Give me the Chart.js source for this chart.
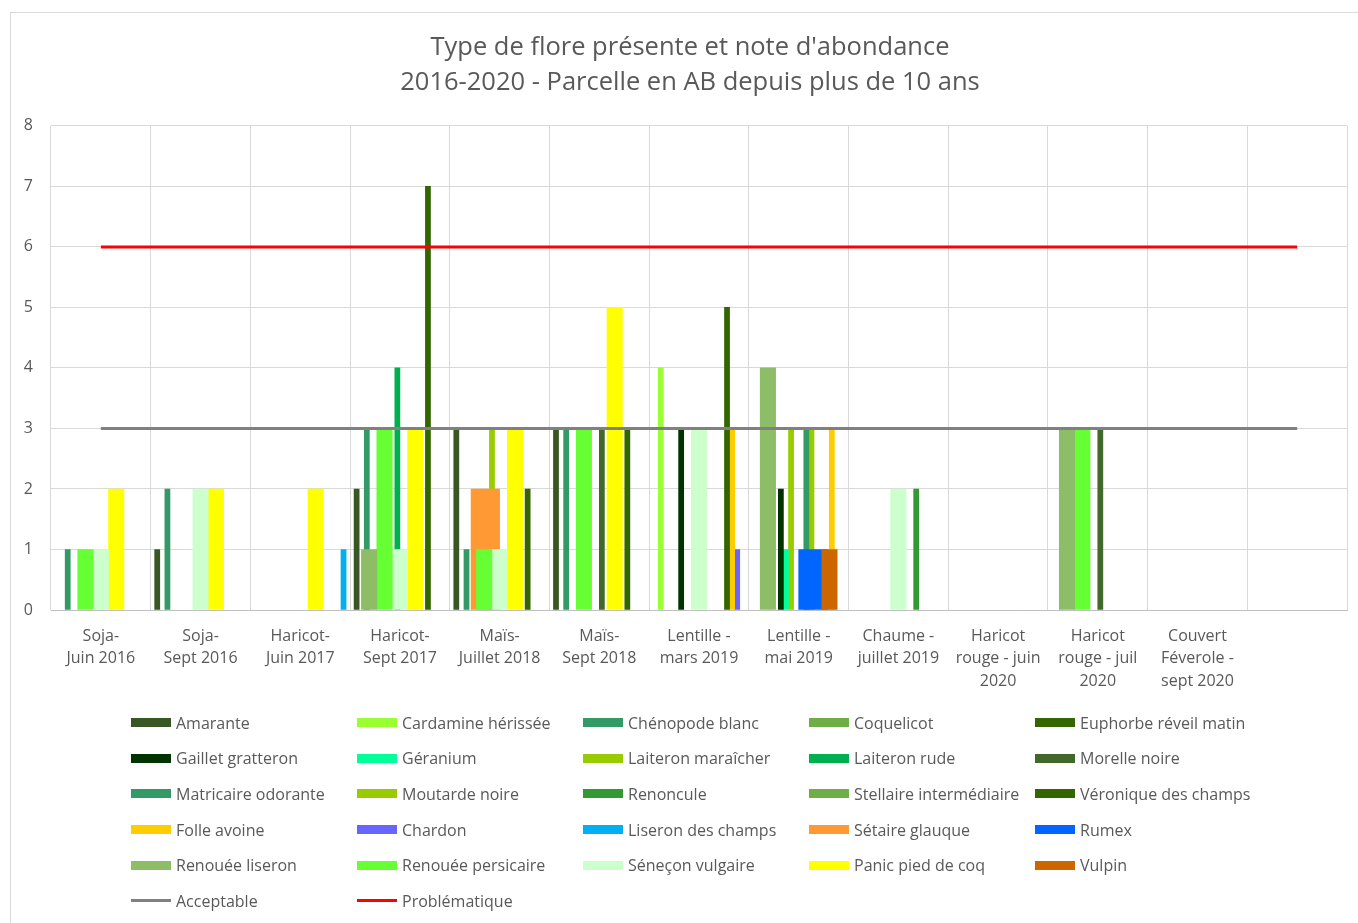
<!DOCTYPE html>
<html lang="fr">
<head>
<meta charset="utf-8">
<title>Type de flore présente et note d'abondance</title>
<script src="https://cdn.jsdelivr.net/npm/chart.js@4.4.1/dist/chart.umd.min.js"></script>
<style>
  html, body { margin: 0; padding: 0; background: #fff; overflow: hidden; width: 1358px; height: 923px; }
  #frame { position: absolute; left: 10px; top: 12px; width: 1400px; height: 1000px; border: 1px solid #d9d9d9; box-sizing: border-box; }
  #wrap { position: absolute; left: 0; top: 0; width: 1358px; height: 923px; }
  #legend { position: absolute; left: 131px; top: 705px; display: grid; grid-template-columns: repeat(5, 226px); grid-auto-rows: 35.6px;
            font-family: 'Open Sans', sans-serif; font-size: 16px; color: #595959; }
  .item { display: flex; align-items: center; white-space: nowrap; }
  .mark { display: inline-block; width: 40px; margin-right: 5px; }
</style>
</head>
<body>
<div id="frame"></div>
<div id="wrap"><canvas id="c" width="1358" height="923"></canvas></div>
<div id="legend"></div>
<script>
// Relevés (campagnes), la dernière colonne reste vide
const categories = [
  ["Soja-", "Juin 2016"], ["Soja-", "Sept 2016"], ["Haricot-", "Juin 2017"], ["Haricot-", "Sept 2017"],
  ["Maïs-", "Juillet 2018"], ["Maïs-", "Sept 2018"], ["Lentille -", "mars 2019"], ["Lentille -", "mai 2019"],
  ["Chaume -", "juillet 2019"], ["Haricot", "rouge - juin", "2020"], ["Haricot", "rouge - juil", "2020"],
  ["Couvert", "Féverole -", "sept 2020"], ""
];
const yTicks = [0, 1, 2, 3, 4, 5, 6, 7, 8];

// Notes d'abondance par espèce
const amarante          = [null, 1, null, 2, 3, 3, null, null, null, null, null, null, null];
const cardamine         = [null, null, null, null, null, null, 4, null, null, null, null, null, null];
const chenopode         = [1, 2, null, 3, 1, 3, null, null, null, null, null, null, null];
const coquelicot        = [null, null, null, null, null, null, null, null, null, null, null, null, null];
const euphorbe          = [null, null, null, null, null, null, null, null, null, null, null, null, null];
const gaillet           = [null, null, null, null, null, null, 3, 2, null, null, null, null, null];
const geranium          = [null, null, null, null, null, null, null, 1, null, null, null, null, null];
const laiteronMaraicher = [null, null, null, null, 3, null, null, 3, null, null, null, null, null];
const laiteronRude      = [null, null, null, 4, null, null, null, null, null, null, null, null, null];
const morelle           = [null, null, null, null, null, 3, null, null, null, null, 3, null, null];
const matricaire        = [null, null, null, null, null, null, null, 3, null, null, null, null, null];
const moutarde          = [null, null, null, null, null, null, null, 3, null, null, null, null, null];
const renoncule         = [null, null, null, null, null, null, null, null, 2, null, null, null, null];
const stellaire         = [null, null, null, null, null, null, null, null, null, null, null, null, null];
const veronique         = [null, null, null, 7, 2, 3, 5, null, null, null, null, null, null];
const folleAvoine       = [null, null, null, null, null, null, 3, 3, null, null, null, null, null];
const chardon           = [null, null, null, null, null, null, 1, null, null, null, null, null, null];
const liseronChamps     = [null, null, 1, null, null, null, null, null, null, null, null, null, null];
const setaire           = [null, null, null, null, 2, null, null, null, null, null, null, null, null];
const rumex             = [null, null, null, null, null, null, null, 1, null, null, null, null, null];
const renoueeLiseron    = [null, null, null, 1, null, null, null, 4, null, null, 3, null, null];
const renoueePersicaire = [1, null, null, 3, 1, 3, null, null, null, null, 3, null, null];
const senecon           = [1, 2, null, 1, 1, null, 3, null, 2, null, null, null, null];
const panic             = [2, 2, 2, 3, 3, 5, null, null, null, null, null, null, null];
const vulpin            = [null, null, null, null, null, null, null, 1, null, null, null, null, null];

// Seuils
const acceptable    = [3, 3, 3, 3, 3, 3, 3, 3, 3, 3, 3, 3, 3];
const problematique = [6, 6, 6, 6, 6, 6, 6, 6, 6, 6, 6, 6, 6];

// Mise en page des colonnes : trois groupes, chacun réparti dans la largeur d'une catégorie
const PLOT_WIDTH = 1296;                       // largeur de la zone de tracé en px
const CAT_PX = PLOT_WIDTH / categories.length; // largeur d'une catégorie
const groups = {
  narrow: { span: 0.92,  count: 18, order: 3, next: 0 },
  mid:    { span: 0.572, count: 2,  order: 2, next: 0 },
  wide:   { span: 0.772, count: 5,  order: 1, next: 0 }
};
const indexLabels = categories.map((_, i) => i);
const scales = {};

// Chaque série a son axe horizontal masqué, décalé de la position de sa colonne dans le groupe
function bars(label, data, color, groupName) {
  const g = groups[groupName];
  const slot = g.next++;
  const chunk = g.span / g.count;
  const shift = -g.span / 2 + (slot + 0.5) * chunk;
  const id = 'xs' + Object.keys(scales).length;
  scales[id] = {
    type: 'linear', display: false, position: 'bottom', labels: indexLabels,
    bounds: 'data', offset: false, grace: 0,
    min: -0.5 - shift, max: categories.length - 0.5 - shift
  };
  return {
    type: 'bar', label, data, backgroundColor: color, borderWidth: 0,
    xAxisID: id, order: g.order, grouped: false, barThickness: chunk * CAT_PX
  };
}
function threshold(label, data, color) {
  return {
    type: 'line', label, data, borderColor: color, backgroundColor: color,
    borderWidth: 3, pointRadius: 0, pointHoverRadius: 0, fill: false, tension: 0,
    xAxisID: 'x', order: 0
  };
}

const datasets = [
  bars('Amarante', amarante, '#385723', 'narrow'),
  bars('Cardamine hérissée', cardamine, '#99ff33', 'narrow'),
  bars('Chénopode blanc', chenopode, '#339966', 'narrow'),
  bars('Coquelicot', coquelicot, '#70ad47', 'narrow'),
  bars('Euphorbe réveil matin', euphorbe, '#336600', 'narrow'),
  bars('Gaillet gratteron', gaillet, '#003300', 'narrow'),
  bars('Géranium', geranium, '#00ff99', 'narrow'),
  bars('Laiteron maraîcher', laiteronMaraicher, '#99cc00', 'narrow'),
  bars('Laiteron rude', laiteronRude, '#00b050', 'narrow'),
  bars('Morelle noire', morelle, '#43682b', 'narrow'),
  bars('Matricaire odorante', matricaire, '#339966', 'narrow'),
  bars('Moutarde noire', moutarde, '#99cc00', 'narrow'),
  bars('Renoncule', renoncule, '#339933', 'narrow'),
  bars('Stellaire intermédiaire', stellaire, '#70ad47', 'narrow'),
  bars('Véronique des champs', veronique, '#336600', 'narrow'),
  bars('Folle avoine', folleAvoine, '#ffcc00', 'narrow'),
  bars('Chardon', chardon, '#6666ff', 'narrow'),
  bars('Liseron des champs', liseronChamps, '#00b0f0', 'narrow'),
  bars('Sétaire glauque', setaire, '#ff9933', 'mid'),
  bars('Rumex', rumex, '#0066ff', 'mid'),
  bars('Renouée liseron', renoueeLiseron, '#8dbd66', 'wide'),
  bars('Renouée persicaire', renoueePersicaire, '#66ff33', 'wide'),
  bars('Séneçon vulgaire', senecon, '#ccffcc', 'wide'),
  bars('Panic pied de coq', panic, '#ffff00', 'wide'),
  bars('Vulpin', vulpin, '#cc6600', 'wide'),
  threshold('Acceptable', acceptable, '#808080'),
  threshold('Problématique', problematique, '#ff0000')
];

Chart.defaults.font.family = "'Open Sans', sans-serif";
Chart.defaults.color = '#595959';

scales.x = {
  type: 'category',
  offset: true,
  grid: { color: '#d9d9d9', offset: true, drawTicks: false, lineWidth: 1 },
  border: { color: '#bfbfbf', width: 1 },
  ticks: { autoSkip: false, maxRotation: 0, minRotation: 0, padding: 15,
           font: { size: 16, lineHeight: 1.4 }, color: '#595959' },
  afterFit(scale) { scale.height = 313; }
};
scales.y = {
  min: yTicks[0], max: yTicks[yTicks.length - 1],
  grid: { color: '#d9d9d9', drawTicks: false, lineWidth: 1 },
  border: { display: false },
  ticks: { stepSize: 1, padding: 18, font: { size: 16 }, color: '#595959' },
  afterFit(scale) { scale.width = 29; }
};
// marge droite du graphique
scales.yRight = {
  type: 'linear', position: 'right',
  grid: { display: false }, border: { display: false }, ticks: { display: false },
  afterFit(scale) { scale.width = 11; }
};

const chart = new Chart(document.getElementById('c'), {
  type: 'bar',
  data: { labels: categories, datasets },
  options: {
    responsive: false,
    devicePixelRatio: 1,
    animation: false,
    layout: { padding: { left: 22, right: 0, top: 0, bottom: 0 } },
    plugins: {
      legend: { display: false },
      tooltip: { enabled: false },
      title: {
        display: true,
        text: ["Type de flore présente et note d'abondance", "2016-2020 - Parcelle en AB depuis plus de 10 ans"],
        font: { size: 25.5, weight: 'normal', lineHeight: 1.37 },
        color: '#595959',
        padding: { top: 30, bottom: 26 }
      }
    },
    scales
  }
});

// Légende en grille de cinq colonnes
const legend = document.getElementById('legend');
chart.data.datasets.forEach(ds => {
  const item = document.createElement('div');
  item.className = 'item';
  const mark = document.createElement('span');
  mark.className = 'mark';
  if (ds.type === 'line') {
    mark.style.height = '3px';
    mark.style.background = ds.borderColor;
  } else {
    mark.style.height = '9px';
    mark.style.background = ds.backgroundColor;
  }
  const text = document.createElement('span');
  text.textContent = ds.label;
  item.appendChild(mark);
  item.appendChild(text);
  legend.appendChild(item);
});
</script>
</body>
</html>
